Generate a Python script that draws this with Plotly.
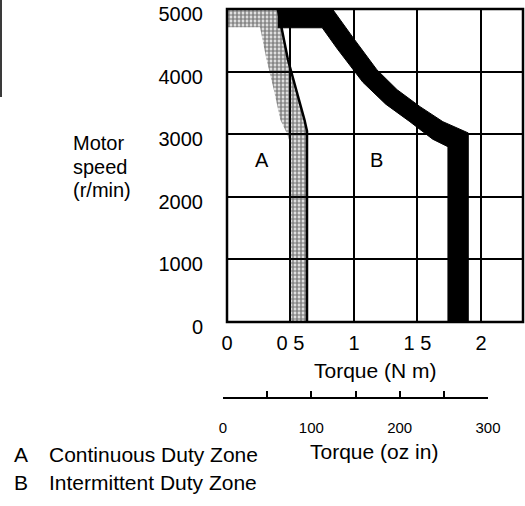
import plotly.graph_objects as go

# Axis scales
torque_ticks = [0, 0.5, 1, 1.5, 2]
torque_tick_text = ["0", "0 5", "1", "1 5", "2"]
speed_ticks = [0, 1000, 2000, 3000, 4000, 5000]
speed_tick_text = ["0", "1000", "2000", "3000", "4000", "5000"]
ozin_ticks = [0, 50, 100, 150, 200, 250, 300]
ozin_tick_text = ["0", "", "100", "", "200", "", "300"]

# Zone A (continuous duty): limit curve and inner edge of its shaded band
cont_limit_torque = [0.63, 0.63, 0.61, 0.48, 0.40]
cont_limit_speed = [0, 3050, 3230, 4190, 5000]
cont_inner_torque = [0.0, 0.0, 0.26, 0.31, 0.37, 0.42, 0.47, 0.49, 0.49]
cont_inner_speed = [5000, 4710, 4710, 4200, 3700, 3230, 3020, 2900, 0]

# Zone B (intermittent duty): outer and inner edges of the limit band
inter_outer_torque = [0.40, 0.83, 0.99, 1.18, 1.34, 1.52, 1.70, 1.90, 1.90]
inter_outer_speed = [5000, 5000, 4550, 4030, 3710, 3440, 3200, 3020, 0]
inter_inner_torque = [1.74, 1.74, 1.62, 1.44, 1.25, 1.07, 0.87, 0.75, 0.40]
inter_inner_speed = [0, 2800, 2920, 3200, 3480, 3830, 4360, 4700, 4700]

FONT = "Liberation Sans, Arial, Helvetica, sans-serif"

fig = go.Figure()

# Shaded band of zone A
fig.add_trace(go.Scatter(
    x=cont_limit_torque + cont_inner_torque,
    y=cont_limit_speed + cont_inner_speed,
    mode="lines", line=dict(width=0), fill="toself",
    fillcolor="rgba(0,0,0,0)",
    fillpattern=dict(shape=".", fgcolor="#111111", bgcolor="rgba(255,255,255,0)",
                     size=4, solidity=0.7),
    hoverinfo="skip", showlegend=False,
))
# Limit line of zone A
fig.add_trace(go.Scatter(
    x=cont_limit_torque, y=cont_limit_speed, mode="lines",
    line=dict(color="black", width=2.5), hoverinfo="skip", showlegend=False,
))
# Black band of zone B
fig.add_trace(go.Scatter(
    x=inter_outer_torque + inter_inner_torque,
    y=inter_outer_speed + inter_inner_speed,
    mode="lines", line=dict(color="black", width=1), fill="toself",
    fillcolor="black", hoverinfo="skip", showlegend=False,
))
# Carrier trace for the oz·in scale (own hidden y axis)
fig.add_trace(go.Scatter(
    x=[ozin_ticks[0], ozin_ticks[-1]], y=[0, 0], xaxis="x2", yaxis="y2",
    mode="lines", line=dict(width=0), hoverinfo="skip", showlegend=False,
))

fig.add_annotation(x=0.276, y=2590, xref="x", yref="y", text="A", showarrow=False,
                   font=dict(size=20, color="black", family=FONT))
fig.add_annotation(x=1.18, y=2590, xref="x", yref="y", text="B", showarrow=False,
                   font=dict(size=20, color="black", family=FONT))

L, T, W_PAPER, H_PAPER = 223, 9, 300, 388


def px(xp, yp):
    return (xp - L) / W_PAPER, (T + H_PAPER - yp) / H_PAPER


def note(text, xp, yp, xanchor="center", size=21):
    x, y = px(xp, yp)
    fig.add_annotation(x=x, y=y, xref="paper", yref="paper", text=text,
                       showarrow=False, xanchor=xanchor, yanchor="middle",
                       font=dict(size=size, color="black", family=FONT))


note("Torque (N m)", 375, 370)
note("Torque (oz in)", 374, 451)
note("Motor", 71, 143, "left", 20)
note("speed", 71, 167, "left", 20)
note("(r/min)", 71, 190, "left", 20)
note("A", 12, 455, "left")
note("Continuous Duty Zone", 47, 455, "left")
note("B", 12, 482, "left")
note("Intermittent Duty Zone", 47, 482, "left")

# Plot frame
fig.add_shape(type="rect", xref="x domain", yref="y domain", x0=0, x1=1, y0=0, y1=1,
              line=dict(color="black", width=2.5), layer="above")

# Edge rule at far left of the page
x0, y0 = px(1, 97)
_, y1 = px(1, 0)
fig.add_shape(type="line", xref="paper", yref="paper", x0=x0, x1=x0, y0=y0, y1=y1,
              line=dict(color="#3a3a3a", width=2))

fig.update_layout(
    width=525, height=506,
    margin=dict(l=L, r=2, t=T, b=109, pad=0, autoexpand=False),
    paper_bgcolor="white", plot_bgcolor="white",
    font=dict(family=FONT, size=20, color="black"),
    xaxis=dict(
        domain=[4 / 300, 1], range=[0, 2.331], anchor="y", automargin=False,
        tickmode="array", tickvals=torque_ticks, ticktext=torque_tick_text,
        showgrid=True, gridcolor="black", gridwidth=2, zeroline=False,
        showline=False, ticks="", ticklabelstandoff=7, tickfont=dict(size=20),
        ticklabeloverflow="allow",
    ),
    yaxis=dict(
        domain=[(397 - 322) / 388, 1], range=[0, 5000], anchor="x", automargin=False,
        tickmode="array", tickvals=speed_ticks, ticktext=speed_tick_text,
        showgrid=True, gridcolor="black", gridwidth=2, zeroline=False,
        showline=False, ticks="", ticklabelstandoff=23, tickfont=dict(size=20),
        ticklabeloverflow="allow", ticklabelshift=5,
    ),
    xaxis2=dict(
        domain=[0, (488 - 223) / 300], range=[0, 300], anchor="y2", automargin=False,
        tickmode="array", tickvals=ozin_ticks, ticktext=ozin_tick_text,
        showgrid=False, zeroline=False, showline=True, linecolor="black", linewidth=2,
        ticks="inside", ticklen=6, tickwidth=2, tickcolor="black",
        ticklabelstandoff=16, tickfont=dict(size=15), ticklabeloverflow="allow",
    ),
    yaxis2=dict(domain=[0, 0.02], range=[-1, 1], anchor="x2", visible=False),
)

fig.write_html("out.html")
